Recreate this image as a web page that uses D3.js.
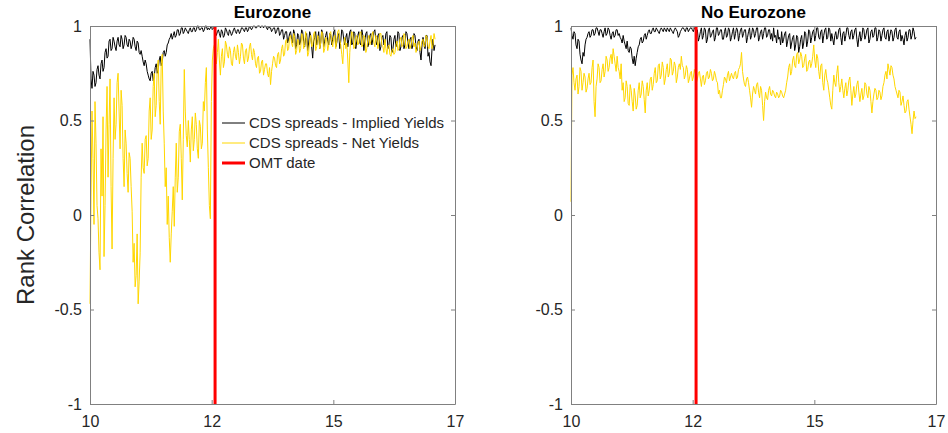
<!DOCTYPE html>
<html>
<head>
<meta charset="utf-8">
<script src="https://cdn.jsdelivr.net/npm/d3@7"></script>
<style>
  html, body { margin: 0; padding: 0; background: #fff; }
  svg { display: block; font-family: "Liberation Sans", Arial, Helvetica, sans-serif; }
</style>
</head>
<body>
<svg id="chart" width="948" height="433"></svg>
<script>
// Rank correlation between CDS spreads and yields, sampled from 2010 onwards.
const panelTitles = ["Eurozone", "No Eurozone"];
const seriesNames = ["CDS spreads - Implied Yields", "CDS spreads - Net Yields", "OMT date"];

const dataStart = 2010.0;
const dataEnd = 2017.09;
const omtDate = 2012.57;

const xTickValues = [2010, 2012.5, 2015, 2017.5];
const xTickLabels = ["10", "12", "15", "17"];
const yTickValues = [-1, -0.5, 0, 0.5, 1];
const yTickLabels = ["-1", "-0.5", "0", "0.5", "1"];

// Eurozone: CDS spreads vs implied yields
const impliedEZ = [
  0.93,0.72,0.67,0.76,0.74,0.68,0.70,0.77,0.79,0.74,0.72,0.80,0.82,0.76,0.78,0.86,0.88,0.83,0.84,0.92,0.93,0.87,0.88,0.94,0.92,0.89,0.87,0.92,0.94,0.90,0.89,0.95,0.93,0.88,0.90,0.95,0.94,0.90,0.89,0.93,
  0.92,0.88,0.90,0.94,0.93,0.89,0.87,0.92,0.91,0.86,0.85,0.87,0.84,0.81,0.79,0.82,0.80,0.76,0.74,0.72,0.71,0.75,0.76,0.71,0.73,0.78,0.80,0.75,0.77,0.82,0.84,0.79,0.81,0.86,0.87,0.84,0.86,0.90,0.91,0.93,
  0.94,0.96,0.93,0.95,0.97,0.94,0.95,0.98,0.98,0.95,0.96,0.99,0.99,0.96,0.97,0.99,0.98,0.97,0.96,0.98,0.99,0.97,0.97,0.99,0.99,0.97,0.98,1.00,1.00,0.98,0.98,0.99,0.99,0.97,0.98,1.00,1.00,0.98,0.99,0.98,
  0.99,1.00,0.98,0.99,0.99,0.97,0.95,0.97,0.98,0.96,0.94,0.98,0.97,0.94,0.95,0.99,0.98,0.96,0.95,0.98,0.97,0.95,0.96,0.98,0.99,0.97,0.96,0.98,0.98,0.96,0.97,0.99,0.99,0.98,0.97,0.99,0.99,0.97,0.98,1.00,
  0.99,0.98,0.99,1.00,1.00,0.99,0.99,1.00,1.00,1.00,0.99,1.00,1.00,0.99,1.00,1.00,0.99,0.98,1.00,0.99,0.99,0.97,0.98,0.99,0.99,0.96,0.97,0.99,0.99,0.95,0.96,0.98,0.98,0.93,0.95,0.97,0.97,0.91,0.93,0.96,
  0.97,0.93,0.91,0.98,0.96,0.88,0.90,0.96,0.95,0.90,0.92,0.98,0.97,0.92,0.89,0.94,0.96,0.87,0.91,0.97,0.95,0.89,0.83,0.92,0.94,0.97,0.90,0.93,0.97,0.88,0.91,0.98,0.96,0.89,0.92,0.95,0.97,0.92,0.90,0.96,
  0.95,0.90,0.93,0.97,0.98,0.89,0.91,0.95,0.96,0.88,0.92,0.98,0.97,0.93,0.90,0.94,0.96,0.89,0.93,0.97,0.98,0.90,0.91,0.97,0.96,0.88,0.92,0.95,0.97,0.91,0.90,0.98,0.95,0.87,0.92,0.96,0.97,0.89,0.91,0.95,
  0.96,0.90,0.93,0.97,0.98,0.92,0.90,0.95,0.96,0.87,0.89,0.94,0.95,0.90,0.91,0.96,0.97,0.88,0.90,0.95,0.94,0.86,0.88,0.93,0.95,0.89,0.91,0.97,0.96,0.87,0.89,0.94,0.95,0.88,0.90,0.97,0.96,0.91,0.88,0.93,
  0.94,0.88,0.90,0.96,0.95,0.89,0.87,0.92,0.93,0.86,0.82,0.90,0.94,0.91,0.88,0.95,0.95,0.84,0.86,0.81,0.79,0.88,0.93,0.87,0.90
];

// Eurozone: CDS spreads vs net yields
const netEZ = [
  -0.47,0.10,0.55,0.30,-0.05,0.60,0.38,0.05,-0.02,-0.20,-0.29,0.35,0.10,0.52,-0.22,0.05,0.45,0.68,0.20,0.48,0.72,0.15,-0.18,0.30,0.62,0.40,0.48,0.70,0.75,0.55,0.35,0.66,0.58,0.30,0.15,0.45,0.38,0.22,0.12,0.33,
  0.30,0.15,0.02,-0.25,-0.15,-0.38,-0.32,-0.10,-0.47,-0.35,-0.20,0.20,0.38,0.25,0.22,0.40,0.42,0.26,0.30,0.55,0.62,0.40,0.45,0.68,0.75,0.52,0.58,0.78,0.82,0.60,0.48,0.80,0.85,0.55,0.38,0.15,0.25,-0.05,0.10,-0.12,
  -0.25,-0.10,0.02,0.15,-0.06,0.20,0.38,0.12,0.20,0.44,0.48,0.30,0.08,0.40,0.77,0.55,0.42,0.36,0.50,0.40,0.28,0.45,0.52,0.34,0.40,0.54,0.48,0.35,0.30,0.50,0.47,0.35,0.38,0.60,0.55,0.70,0.78,0.45,0.25,0.05,
  -0.02,0.60,0.82,0.88,0.90,0.85,0.80,0.86,0.93,0.82,0.74,0.84,0.88,0.78,0.81,0.92,0.90,0.85,0.83,0.89,0.87,0.80,0.79,0.86,0.89,0.84,0.82,0.90,0.86,0.80,0.84,0.91,0.90,0.83,0.80,0.87,0.88,0.81,0.83,0.89,
  0.91,0.85,0.82,0.88,0.86,0.80,0.78,0.83,0.84,0.75,0.76,0.81,0.82,0.74,0.77,0.80,0.80,0.75,0.73,0.78,0.69,0.76,0.80,0.84,0.83,0.79,0.78,0.85,0.86,0.80,0.82,0.88,0.90,0.84,0.85,0.92,0.93,0.87,0.88,0.94,
  0.95,0.91,0.89,0.96,0.94,0.85,0.87,0.93,0.92,0.86,0.88,0.96,0.95,0.88,0.90,0.97,0.93,0.84,0.86,0.92,0.95,0.89,0.90,0.96,0.97,0.87,0.89,0.95,0.94,0.88,0.91,0.97,0.96,0.86,0.88,0.94,0.93,0.87,0.90,0.96,
  0.97,0.92,0.89,0.94,0.95,0.88,0.92,0.97,0.98,0.93,0.90,0.85,0.80,0.90,0.94,0.88,0.91,0.82,0.70,0.86,0.93,0.97,0.96,0.88,0.89,0.94,0.95,0.90,0.91,0.96,0.97,0.89,0.90,0.95,0.94,0.86,0.88,0.93,0.95,0.90,
  0.92,0.95,0.97,0.91,0.89,0.95,0.94,0.88,0.91,0.96,0.96,0.90,0.89,0.86,0.93,0.88,0.85,0.89,0.90,0.85,0.84,0.87,0.88,0.85,0.86,0.90,0.92,0.87,0.88,0.93,0.94,0.89,0.90,0.96,0.95,0.88,0.89,0.92,0.93,0.88,
  0.90,0.93,0.95,0.89,0.91,0.86,0.88,0.91,0.92,0.87,0.89,0.92,0.93,0.89,0.90,0.95,0.94,0.89,0.88,0.92,0.95,0.88,0.90,0.96,0.93
];

// Non-Eurozone: CDS spreads vs implied yields
const impliedNE = [
  0.99,0.95,0.93,0.97,0.96,0.90,0.88,0.93,0.92,0.85,0.82,0.80,0.86,0.84,0.90,0.93,0.94,0.96,0.97,0.94,0.95,0.98,0.98,0.95,0.96,0.99,0.99,0.97,0.95,0.98,0.98,0.96,0.94,0.97,0.99,0.95,0.96,0.99,0.98,0.95,
  0.93,0.96,0.97,0.94,0.95,0.98,0.98,0.95,0.96,0.94,0.93,0.91,0.95,0.92,0.90,0.88,0.92,0.87,0.86,0.89,0.88,0.83,0.80,0.84,0.79,0.83,0.86,0.89,0.90,0.93,0.94,0.91,0.92,0.95,0.96,0.93,0.95,0.97,0.98,0.96,
  0.96,0.98,0.99,0.97,0.97,0.99,0.98,0.97,0.96,0.98,0.99,0.98,0.97,0.99,0.98,0.97,0.99,0.98,0.97,0.99,0.98,0.97,0.96,0.98,0.99,0.98,0.97,0.94,0.95,0.97,0.98,0.99,0.99,0.98,0.97,0.99,0.99,0.97,0.98,0.99,
  0.99,0.98,0.97,0.99,0.99,0.96,0.98,0.92,0.94,0.97,0.99,0.93,0.95,0.99,0.98,0.91,0.93,0.98,0.99,0.94,0.95,0.97,0.98,0.92,0.94,0.99,0.99,0.95,0.96,0.98,0.98,0.93,0.93,0.97,0.99,0.94,0.95,0.99,0.98,0.92,
  0.94,0.97,0.99,0.93,0.96,0.99,0.98,0.92,0.95,0.98,0.99,0.94,0.96,0.98,0.98,0.91,0.94,0.97,0.99,0.93,0.95,0.99,0.98,0.94,0.96,0.99,0.99,0.92,0.94,0.97,0.98,0.93,0.96,0.99,0.99,0.94,0.95,0.98,0.98,0.93,
  0.96,0.92,0.99,0.94,0.95,0.91,0.98,0.93,0.94,0.90,0.97,0.91,0.93,0.96,0.97,0.89,0.92,0.95,0.96,0.88,0.91,0.94,0.95,0.87,0.90,0.95,0.94,0.86,0.89,0.93,0.95,0.88,0.91,0.97,0.96,0.89,0.92,0.98,0.97,0.91,
  0.94,0.97,0.98,0.92,0.95,0.99,0.99,0.94,0.93,0.97,0.98,0.91,0.95,0.98,0.99,0.93,0.94,0.99,0.98,0.92,0.96,0.93,0.90,0.95,0.97,0.93,0.94,0.98,0.99,0.94,0.90,0.96,0.97,0.92,0.95,0.99,0.99,0.95,0.93,0.97,
  0.98,0.93,0.95,0.98,0.99,0.93,0.89,0.94,0.97,0.92,0.94,0.99,0.98,0.93,0.95,0.98,0.99,0.91,0.93,0.97,0.98,0.94,0.95,0.99,0.99,0.92,0.94,0.98,0.97,0.92,0.95,0.98,0.99,0.94,0.93,0.97,0.98,0.92,0.95,0.98,
  0.97,0.92,0.94,0.98,0.99,0.94,0.93,0.97,0.98,0.92,0.95,0.93,0.90,0.95,0.97,0.92,0.94,0.98,0.98,0.93,0.95,0.99,0.97,0.93,0.94
];

// Non-Eurozone: CDS spreads vs net yields
const netNE = [
  0.07,0.74,0.78,0.70,0.66,0.72,0.74,0.64,0.68,0.78,0.76,0.66,0.70,0.75,0.73,0.65,0.67,0.72,0.75,0.69,0.70,0.78,0.82,0.60,0.52,0.68,0.72,0.80,0.78,0.70,0.71,0.77,0.80,0.73,0.76,0.84,0.82,0.76,0.78,0.83,
  0.85,0.80,0.88,0.84,0.80,0.76,0.84,0.78,0.76,0.72,0.80,0.66,0.70,0.60,0.62,0.71,0.68,0.59,0.58,0.69,0.66,0.60,0.55,0.67,0.63,0.56,0.58,0.66,0.70,0.62,0.64,0.71,0.68,0.61,0.54,0.66,0.70,0.63,0.66,0.72,
  0.73,0.66,0.69,0.75,0.78,0.70,0.71,0.79,0.80,0.72,0.74,0.81,0.78,0.69,0.72,0.77,0.80,0.73,0.75,0.83,0.82,0.74,0.76,0.81,0.79,0.70,0.73,0.78,0.80,0.77,0.84,0.79,0.78,0.72,0.74,0.79,0.77,0.70,0.72,0.75,
  0.76,0.71,0.73,0.77,0.75,0.70,0.72,0.75,0.76,0.72,0.68,0.73,0.74,0.69,0.71,0.75,0.76,0.72,0.73,0.77,0.75,0.71,0.72,0.76,0.74,0.71,0.70,0.64,0.66,0.62,0.62,0.66,0.69,0.73,0.72,0.70,0.74,0.76,0.71,0.73,
  0.75,0.73,0.72,0.75,0.76,0.72,0.73,0.77,0.78,0.80,0.86,0.76,0.72,0.69,0.68,0.72,0.73,0.70,0.66,0.62,0.57,0.64,0.68,0.66,0.64,0.69,0.70,0.65,0.62,0.68,0.66,0.58,0.50,0.60,0.65,0.62,0.61,0.66,0.68,0.64,
  0.63,0.66,0.65,0.63,0.62,0.65,0.64,0.62,0.63,0.66,0.65,0.63,0.62,0.64,0.66,0.70,0.73,0.78,0.80,0.74,0.76,0.82,0.84,0.79,0.78,0.85,0.86,0.80,0.82,0.86,0.84,0.78,0.79,0.83,0.85,0.76,0.77,0.81,0.82,0.78,
  0.80,0.84,0.90,0.82,0.78,0.85,0.83,0.76,0.72,0.79,0.80,0.70,0.66,0.74,0.77,0.72,0.70,0.66,0.62,0.58,0.56,0.66,0.74,0.70,0.68,0.75,0.79,0.70,0.65,0.68,0.72,0.66,0.62,0.67,0.70,0.63,0.66,0.71,0.73,0.66,
  0.58,0.64,0.68,0.62,0.64,0.69,0.71,0.65,0.60,0.64,0.67,0.61,0.63,0.70,0.69,0.64,0.62,0.68,0.66,0.60,0.54,0.60,0.64,0.67,0.66,0.61,0.62,0.66,0.65,0.61,0.63,0.68,0.70,0.74,0.76,0.72,0.80,0.77,0.74,0.79,
  0.78,0.74,0.72,0.68,0.66,0.64,0.62,0.66,0.65,0.58,0.60,0.63,0.58,0.54,0.55,0.60,0.61,0.56,0.52,0.48,0.43,0.50,0.55,0.51,0.52
];

const panels = [
  { title: panelTitles[0], implied: impliedEZ, net: netEZ, left: 90, right: 455, legend: true },
  { title: panelTitles[1], implied: impliedNE, net: netNE, left: 571, right: 936, legend: false }
];

const colors = { implied: "#000000", net: "#FFD700", omt: "#FF0000", axis: "#808080", text: "#262626" };
const plotTop = 26, plotBottom = 404;

const svg = d3.select("#chart");

const y = d3.scaleLinear().domain([-1, 1]).range([plotBottom, plotTop]);

function toPoints(values) {
  const n = values.length;
  return values.map((v, i) => [dataStart + (dataEnd - dataStart) * i / (n - 1), v]);
}

panels.forEach(p => {
  const x = d3.scaleLinear().domain([2010, 2017.5]).range([p.left, p.right]);
  const g = svg.append("g");

  const line = d3.line().x(d => x(d[0])).y(d => y(d[1]));

  g.append("path")
    .datum(toPoints(p.implied))
    .attr("d", line)
    .attr("fill", "none")
    .attr("stroke", colors.implied)
    .attr("stroke-width", 1);

  g.append("path")
    .datum(toPoints(p.net))
    .attr("d", line)
    .attr("fill", "none")
    .attr("stroke", colors.net)
    .attr("stroke-width", 1);

  g.append("line")
    .attr("x1", x(omtDate)).attr("x2", x(omtDate))
    .attr("y1", y(-1)).attr("y2", y(1))
    .attr("stroke", colors.omt)
    .attr("stroke-width", 3);

  // Box axes: labelled bottom/left, mirrored ticks on top/right; ticks point inward
  const tickLen = 4;
  const xAxis = d3.axisBottom(x).tickValues(xTickValues)
    .tickFormat((d, i) => xTickLabels[i]).tickSizeInner(-tickLen).tickSizeOuter(0).tickPadding(12);
  const yAxis = d3.axisLeft(y).tickValues(yTickValues)
    .tickFormat((d, i) => yTickLabels[i]).tickSizeInner(-tickLen).tickSizeOuter(0).tickPadding(8);
  const xTop = d3.axisTop(x).tickValues(xTickValues).tickFormat("").tickSizeInner(-tickLen).tickSizeOuter(0);
  const yRight = d3.axisRight(y).tickValues(yTickValues).tickFormat("").tickSizeInner(-tickLen).tickSizeOuter(0);

  const styleAxis = sel => {
    sel.selectAll("path").attr("stroke", colors.axis).attr("stroke-width", 1);
    sel.selectAll("line").attr("stroke", colors.axis);
    sel.selectAll("text").attr("fill", colors.text).style("font-size", "16px")
      .style("font-family", "'Liberation Sans', Arial, sans-serif");
  };

  g.append("g").attr("transform", `translate(0,${plotBottom})`).call(xAxis).call(styleAxis);
  g.append("g").attr("transform", `translate(${p.left},0)`).call(yAxis).call(styleAxis);
  g.append("g").attr("transform", `translate(0,${plotTop})`).call(xTop).call(styleAxis);
  g.append("g").attr("transform", `translate(${p.right},0)`).call(yRight).call(styleAxis);

  g.append("text")
    .attr("x", (p.left + p.right) / 2)
    .attr("y", 18)
    .attr("text-anchor", "middle")
    .attr("font-weight", "bold")
    .attr("font-size", 17)
    .attr("fill", "#000")
    .text(p.title);

  if (p.legend) {
    const items = [
      { name: seriesNames[0], color: colors.implied, w: 1 },
      { name: seriesNames[1], color: colors.net, w: 1 },
      { name: seriesNames[2], color: colors.omt, w: 3 }
    ];
    const lg = g.append("g");
    items.forEach((it, i) => {
      const cy = 123 + i * 20;
      lg.append("line")
        .attr("x1", 222).attr("x2", 245)
        .attr("y1", cy).attr("y2", cy)
        .attr("stroke", it.color).attr("stroke-width", it.w);
      lg.append("text")
        .attr("x", 249).attr("y", cy)
        .attr("dy", "0.35em")
        .attr("font-size", 15)
        .attr("fill", colors.text)
        .text(it.name);
    });
  }
});

svg.append("text")
  .attr("transform", "translate(34,215) rotate(-90)")
  .attr("text-anchor", "middle")
  .attr("font-size", 24)
  .attr("fill", colors.text)
  .text("Rank Correlation");
</script>
</body>
</html>
